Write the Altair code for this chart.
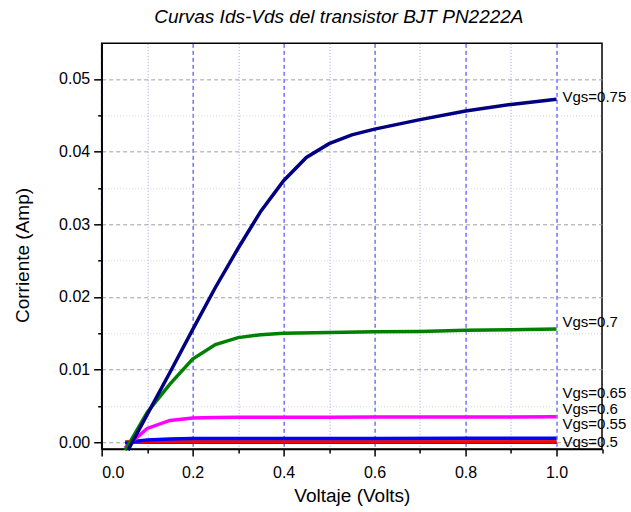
import altair as alt
import pandas as pd

FONT = "Liberation Sans"

# ---- data ----
series_names = ["Vgs=0.5", "Vgs=0.55", "Vgs=0.6", "Vgs=0.65", "Vgs=0.7", "Vgs=0.75"]
series_colors = ["#000000", "#ff0000", "#0000ff", "#ff00ff", "#008000", "#000080"]

vds_05 = [0.052, 0.1, 0.5, 1.0]
ids_05 = [0.0, 0.0, 0.0, 0.0]

vds_055 = [0.052, 0.1, 0.2, 0.5, 1.0]
ids_055 = [0.0, 0.00002, 0.00003, 0.00003, 0.00004]

vds_06 = [0.052, 0.07, 0.1, 0.15, 0.2, 0.4, 0.6, 0.8, 1.0]
ids_06 = [-0.0002, 0.0001, 0.0003, 0.00045, 0.0005, 0.00052, 0.00053, 0.00054, 0.00055]

vds_065 = [0.051, 0.1, 0.15, 0.2, 0.25, 0.3, 0.4, 0.5, 0.6, 0.7, 0.8, 0.9, 1.0]
ids_065 = [-0.0008, 0.0019, 0.0030, 0.00335, 0.0034, 0.00345, 0.00345, 0.00345,
           0.00346, 0.00347, 0.00348, 0.00349, 0.0035]

vds_07 = [0.052, 0.1, 0.15, 0.2, 0.25, 0.3, 0.35, 0.4, 0.5, 0.6, 0.7, 0.8, 0.9, 1.0]
ids_07 = [-0.0011, 0.0041, 0.0080, 0.01146, 0.01345, 0.0144, 0.0148, 0.0150,
          0.0151, 0.0152, 0.01525, 0.0154, 0.0155, 0.0156]

vds_075 = [0.058, 0.1, 0.15, 0.2, 0.25, 0.3, 0.35, 0.4, 0.45, 0.5, 0.55, 0.6,
           0.7, 0.8, 0.9, 1.0]
ids_075 = [-0.0011, 0.0038, 0.0096, 0.0155, 0.0213, 0.0267, 0.0318, 0.0360,
           0.0392, 0.0411, 0.0423, 0.0431, 0.0444, 0.0456, 0.0465, 0.0472]

label_x = [1.0, 1.0, 1.0, 1.0, 1.0, 1.0]
label_y = [0.0001, 0.00248, 0.00458, 0.00674, 0.0166, 0.04756]

x_ticks = [0.0, 0.1, 0.2, 0.3, 0.4, 0.5, 0.6, 0.7, 0.8, 0.9, 1.0, 1.1]
y_ticks = [0.0, 0.005, 0.01, 0.015, 0.02, 0.025, 0.03, 0.035, 0.04, 0.045, 0.05]

vds_all = [vds_05, vds_055, vds_06, vds_065, vds_07, vds_075]
ids_all = [ids_05, ids_055, ids_06, ids_065, ids_07, ids_075]

rows = []
for k, (name, xs, ys) in enumerate(zip(series_names, vds_all, ids_all)):
    for x, y in zip(xs, ys):
        rows.append({"serie": name, "k": k, "vds": x, "ids": y})
df = pd.DataFrame(rows)

df_lab = pd.DataFrame({"serie": series_names, "lx": label_x, "ly": label_y})

# ---- scales / axes ----
xscale = alt.Scale(domain=[0, 1.1], nice=False, zero=False)
yscale = alt.Scale(domain=[-0.00092, 0.0549], nice=False, zero=False)

x_major = "round(datum.value*10) % 2 == 0"
y_major = "abs(datum.value*100 - round(datum.value*100)) < 0.001"

xaxis = alt.Axis(
    values=x_ticks,
    title="Voltaje (Volts)",
    labelExpr=f"({x_major}) ? format(datum.value, '.1f') : ''",
    labelOverlap=False,
    labelFont=FONT, labelFontSize=16, labelColor="black", labelPadding=9,
    titleFont=FONT, titleFontSize=19, titleFontWeight="normal", titleColor="black",
    titleX=250.3, titleY=47, titleBaseline="middle", titleAlign="center",
    domainColor="black", domainWidth=1.5,
    tickColor="black", tickWidth=1.5,
    tickSize={"condition": {"test": x_major, "value": 7}, "value": 4},
    grid=True,
    gridColor={"condition": {"test": x_major, "value": "#2a2aff"}, "value": "#9a9aff"},
    gridDash={"condition": {"test": x_major, "value": [4, 3]}, "value": [1, 2]},
    gridWidth=1,
    gridOpacity={"condition": {"test": "datum.value > 1.05", "value": 0}, "value": 1},
)

yaxis = alt.Axis(
    values=y_ticks,
    title="Corriente (Amp)",
    labelExpr=f"({y_major}) ? format(datum.value, '.2f') : ''",
    labelOverlap=False,
    labelFont=FONT, labelFontSize=16, labelColor="black", labelPadding=4,
    titleFont=FONT, titleFontSize=19, titleFontWeight="normal", titleColor="black",
    titleX=-78.7, titleY=211.7, titleAngle=-90, titleBaseline="middle", titleAlign="center",
    domainColor="black", domainWidth=1.5,
    tickColor="black", tickWidth=1.5,
    tickSize={"condition": {"test": y_major, "value": 8}, "value": 4},
    grid=True,
    gridColor={"condition": {"test": y_major, "value": "#a0a0a0"}, "value": "#d4d4d4"},
    gridDash={"condition": {"test": y_major, "value": [4, 3]}, "value": [1, 2]},
    gridWidth=1,
)

lines = alt.Chart(df).mark_line(strokeWidth=3.5, clip=False).encode(
    x=alt.X("vds:Q", scale=xscale, axis=xaxis),
    y=alt.Y("ids:Q", scale=yscale, axis=yaxis),
    color=alt.Color("serie:N", scale=alt.Scale(domain=series_names, range=series_colors), legend=None),
    detail="k:O",
    order="vds:Q",
)

texts = alt.Chart(df_lab).mark_text(
    align="left", baseline="middle", dx=6, fontSize=15, font=FONT, color="black"
).encode(
    x=alt.X("lx:Q", scale=xscale),
    y=alt.Y("ly:Q", scale=yscale),
    text="serie:N",
)

chart = alt.layer(lines, texts).properties(
    width=500.5,
    height=405.7,
    title=alt.Title(
        "Curvas Ids-Vds del transistor BJT PN2222A",
        font=FONT, fontSize=19, fontStyle="italic", fontWeight="normal",
        color="black", anchor="middle", baseline="middle", offset=7, dx=-13,
    ),
    autosize=alt.AutoSizeParams(type="none"),
    padding={"left": 101.7, "top": 43.3, "right": 29, "bottom": 63},
    background="white",
).configure_view(stroke="black", strokeWidth=1.5)

chart.save("out.html", embed_options={"renderer": "svg", "actions": False})
